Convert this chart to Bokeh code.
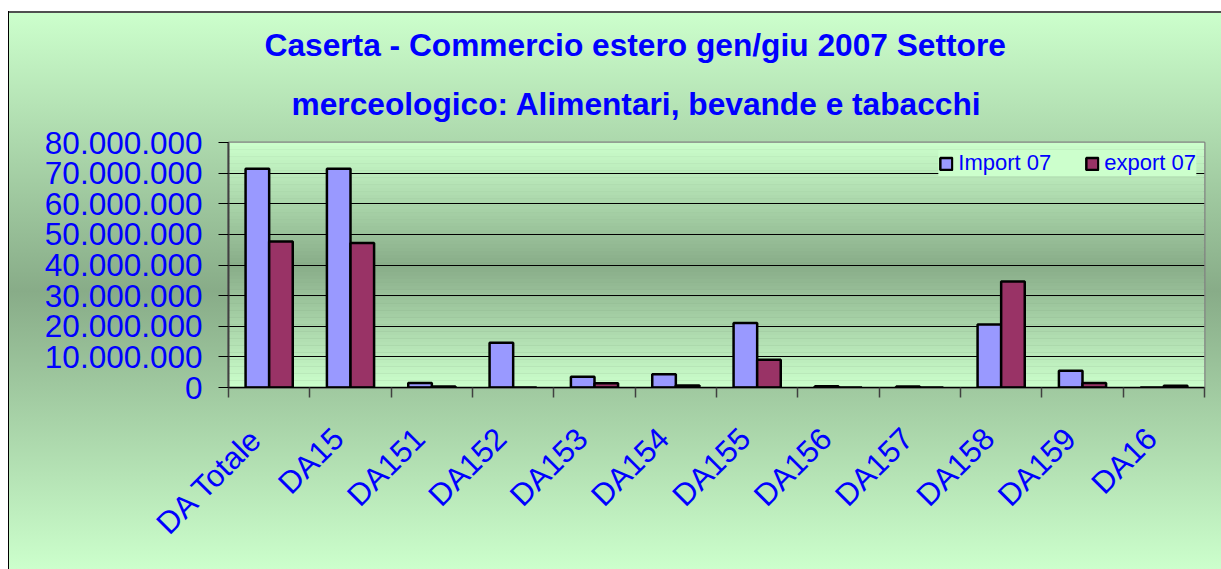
from math import pi
from bokeh.plotting import figure
from bokeh.models import (ColumnDataSource, Range1d, LinearAxis, FixedTicker, BoxAnnotation,
                          Title, Legend, LegendItem)
from bokeh.transform import dodge
from bokeh.embed import file_html
from bokeh.resources import INLINE

# ---- data ----
categories = ["DA Totale", "DA15", "DA151", "DA152", "DA153", "DA154",
              "DA155", "DA156", "DA157", "DA158", "DA159", "DA16"]
import_07 = [71.4e6, 71.4e6, 1.5e6, 14.6e6, 3.5e6, 4.3e6, 21.1e6, 0.4e6, 0.3e6, 20.6e6, 5.5e6, 0.0]
export_07 = [47.7e6, 47.2e6, 0.3e6, 0.0, 1.4e6, 0.65e6, 9.1e6, 0.0, 0.0, 34.6e6, 1.5e6, 0.6e6]
series_names = ["Import 07", "export 07"]
y_ticks = [0, 10e6, 20e6, 30e6, 40e6, 50e6, 60e6, 70e6, 80e6]
y_tick_labels = ["0", "10.000.000", "20.000.000", "30.000.000", "40.000.000",
                 "50.000.000", "60.000.000", "70.000.000", "80.000.000"]
title_lines = ["Caserta - Commercio estero gen/giu 2007 Settore",
               "merceologico: Alimentari, bevande e tabacchi"]

BLUE = "#0000ff"
FONT = "Liberation Sans"
LIGHT = (204, 255, 204)
DARK = (136, 172, 136)

n = len(categories)
centers = [i + 0.5 for i in range(n)]          # slot centres
bounds = list(range(n + 1))                     # slot boundaries
label_pos = [c - 0.15 for c in centers]         # rotated labels sit a little left of centre
src = ColumnDataSource(dict(pos=centers, cat=categories, imp=import_07, exp=export_07))

p = figure(x_range=Range1d(0, n), y_range=Range1d(0, 80e6), width=1221, height=569,
           output_backend="svg", toolbar_location=None, x_axis_location=None,
           min_border_left=228, min_border_right=17, min_border_top=142, min_border_bottom=182)

p.border_fill_color = None
p.background_fill_color = None
p.outline_line_color = "#808080"
p.outline_line_width = 2
p.styles = {
    "background": (
        "linear-gradient(#000,#000) 8px 11px / 1px calc(100% - 11px) no-repeat, "
        "linear-gradient(#505050,#505050) 8px 11px / calc(100% - 8px) 2px no-repeat, "
        "linear-gradient(to bottom, #ccffcc 0%, #88ac88 50%, #ccffcc 100%) 8px 13px / "
        "calc(100% - 8px) calc(100% - 13px) no-repeat, #ffffff"
    )
}

# plot-area gradient (light - dark - light)
nb = 70
for i in range(nb):
    b = 80e6 * i / nb
    t = 80e6 * (i + 1) / nb
    f = abs((b + t) / 2 - 40e6) / 40e6
    col = tuple(int(round(DARK[k] + (LIGHT[k] - DARK[k]) * f)) for k in range(3))
    p.add_layout(BoxAnnotation(bottom=b, top=t, fill_color="#%02x%02x%02x" % col, fill_alpha=1,
                               line_color=None, level="image"))

# y axis
yax = p.yaxis[0]
yax.ticker = FixedTicker(ticks=y_ticks)
yax.major_label_overrides = {int(t): l for t, l in zip(y_ticks, y_tick_labels)}
yax.axis_line_color = "#404040"
yax.axis_line_width = 2
yax.major_tick_line_color = "black"
yax.major_tick_out = 10
yax.major_tick_in = 0
yax.minor_tick_line_color = None
yax.major_label_text_font = FONT
yax.major_label_text_font_size = "31.5px"
yax.major_label_text_color = BLUE
yax.major_label_standoff = 16

p.ygrid.ticker = yax.ticker
p.ygrid.grid_line_color = "black"
p.ygrid.grid_line_width = 1
p.xgrid.visible = False

# x axis: labels near slot centres, tick marks at slot boundaries
xax = LinearAxis(ticker=FixedTicker(ticks=label_pos, minor_ticks=bounds),
                 major_label_overrides={c: lab for c, lab in zip(label_pos, categories)},
                 axis_line_color="black", axis_line_width=1.5,
                 major_tick_line_color=None, major_tick_out=0, major_tick_in=0,
                 minor_tick_line_color="#404040", minor_tick_line_width=1.5,
                 minor_tick_out=10, minor_tick_in=0,
                 major_label_orientation=pi / 4,
                 major_label_text_font=FONT, major_label_text_font_size="31px",
                 major_label_text_color=BLUE, major_label_standoff=36)
p.add_layout(xax, "below")

# bars
bw = 0.29
r1 = p.vbar(x=dodge("pos", -bw / 2), top="imp", width=bw, source=src,
            fill_color="#9999ff", line_color="black", line_width=2.5)
r2 = p.vbar(x=dodge("pos", bw / 2), top="exp", width=bw, source=src,
            fill_color="#993366", line_color="black", line_width=2.5)

# legend (kept inside the plot area, top right, where it stays visible)
legend = Legend(items=[LegendItem(label=series_names[0], renderers=[r1]),
                       LegendItem(label=series_names[1], renderers=[r2])],
                orientation="horizontal", location="top_right", margin=8, padding=8,
                spacing=33, label_standoff=5, glyph_width=15, glyph_height=15,
                label_text_font=FONT, label_text_font_size="22px", label_text_color=BLUE,
                background_fill_color="#ccffcc", background_fill_alpha=1, border_line_color=None)
p.add_layout(legend, "center")

# title: two lines, the lower one added first (nearer the plot)
p.add_layout(Title(text=title_lines[1], align="left", offset=63, vertical_align="bottom",
                   standoff=42, text_font=FONT, text_font_style="bold",
                   text_font_size="31.7px", text_color=BLUE), "above")
p.add_layout(Title(text=title_lines[0], align="left", offset=36, vertical_align="bottom",
                   standoff=0, text_font=FONT, text_font_style="bold",
                   text_font_size="31.7px", text_color=BLUE), "above")

open("out.html", "w").write(file_html(p, INLINE))
